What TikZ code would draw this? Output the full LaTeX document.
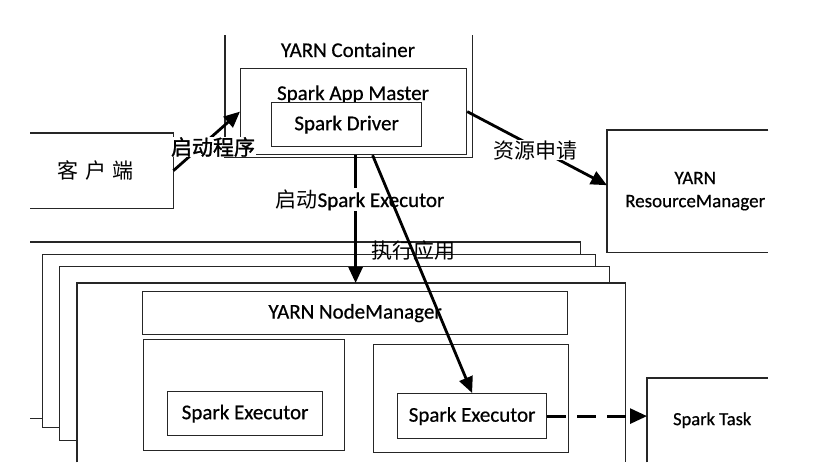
\documentclass[tikz,border=0pt]{standalone}
\usepackage{fontspec}
\setmainfont{Carlito}[FakeBold=0.6]
\newfontfamily\cjk{Noto Sans CJK SC}
\newfontfamily\cjkb{Noto Sans CJK SC}[FakeBold=1.5]
\usetikzlibrary{arrows.meta,calc}
\newcommand\mylbl{\fontsize{21}{25}\selectfont}
\newcommand\mysmall{\fontsize{19}{23}\selectfont}
\newcommand\mycjk{\cjk\fontsize{21}{25}\selectfont}
\begin{document}
\begin{tikzpicture}[x=1pt,y=-1pt,
  boxline/.style={draw=black!85, line width=1.2pt},
  box/.style={boxline, fill=white, inner sep=0pt, anchor=north west},
  area/.style={inner sep=0pt, anchor=north west},
  arr/.style={line width=2.8pt, -{Triangle[length=16pt,width=14pt]}},
  darr/.style={line width=2.8pt, dash pattern=on 19pt off 11pt, -{Triangle[length=17pt,width=15pt]}},
  txt/.style={font=\mylbl, anchor=base, inner sep=0pt},
  cntxt/.style={font=\mycjk, anchor=base, inner sep=0.5pt}
]
\useasboundingbox[fill=white] (0,0) rectangle (825,471);

% YARN Container (open at top)
\node[area, minimum width=247pt, minimum height=122pt] (cont) at (225,35) {};
\draw[boxline] (cont.north west) -- (cont.south west) -- (cont.south east) -- (cont.north east);
\node[txt] (conttitle) at (348,57) {YARN Container};

% Spark App Master with Spark Driver
\node[box, minimum width=226pt, minimum height=86pt] (am) at (240,68) {};
\node[txt] (amtitle) at (353,100) {Spark App Master};
\node[box, minimum width=150pt, minimum height=44pt, font=\mylbl] (drv) at (271,102) {Spark Driver};

% client (open at left)
\node[area, minimum width=143pt, minimum height=75pt, font=\mycjk] (client) at (30,133) {客\hspace{0.3em}户\hspace{0.3em}端\hspace*{12pt}};
\draw[boxline] (client.north west) -- (client.north east) -- (client.south east) -- (client.south west);

% YARN ResourceManager (open at right)
\node[area, minimum width=176pt, minimum height=122pt, font=\mysmall, align=center] (rm) at (607,130) {YARN\\ResourceManager};
\draw[boxline] ([xshift=-15pt]rm.north east) -- (rm.north west) -- (rm.south west) -- ([xshift=-15pt]rm.south east);

% stacked node layers
\node[area, minimum width=550pt, minimum height=176pt] (layer0) at (30,242) {};
\fill[white] (layer0.north west) rectangle (layer0.south east);
\draw[boxline] (layer0.north west) -- (layer0.north east) -- (layer0.south east) -- (layer0.south west);
\node[box, minimum width=553pt, minimum height=173pt] (layer1) at (42,254) {};
\node[box, minimum width=550pt, minimum height=174pt] (layer2) at (59,266) {};
\node[area, minimum width=548pt, minimum height=179pt] (front) at (77,283) {};
\fill[white] (front.north west) rectangle (front.south east);
\draw[boxline] (front.south west) -- (front.north west) -- (front.north east) -- (front.south east);

% NodeManager and containers
\node[box, minimum width=425pt, minimum height=43pt, font=\mylbl] (nm) at (142,291) {YARN NodeManager};
\node[box, minimum width=201pt, minimum height=111pt] (lcont) at (143,339) {};
\node[box, minimum width=155pt, minimum height=44pt, font=\mylbl] (lexec) at (167,391) {Spark Executor};
\node[box, minimum width=195pt, minimum height=108pt] (rcont) at (373,344) {};
\node[box, minimum width=149pt, minimum height=45pt, font=\mylbl] (rexec) at (397,393) {Spark Executor};

% Spark Task (open at right and bottom)
\node[area, minimum width=130pt, minimum height=84pt, font=\fontsize{18.5}{22}\selectfont] (task) at (647,378) {Spark Task};
\draw[boxline] (task.south west) -- (task.north west) -- ([xshift=-9pt]task.north east);

% connectors
\draw[arr] (client.east) -- (am.west);
\node[cntxt, fill=white, font=\cjkb\fontsize{21}{25}\selectfont] (l1) at (213,155) {启动程序};

\draw[arr] (am.east) -- ([yshift=6pt]rm.west);
\node[cntxt, fill=white] (l2) at (535,158) {资源申请};

\draw[arr] ([xshift=2pt]am.south) -- ([xshift=2pt]am.south |- front.north);
\node[anchor=base, inner sep=1pt, fill=white] (l3) at (360,207) {{\mycjk 启动}{\mylbl Spark Executor}};

\draw[arr] ([xshift=19pt]am.south) -- (rexec.north);
\node[cntxt] (l4) at (413,258) {执行应用};

\draw[darr] (rexec.east) -- (task.west |- rexec.east);
\end{tikzpicture}
\end{document}
